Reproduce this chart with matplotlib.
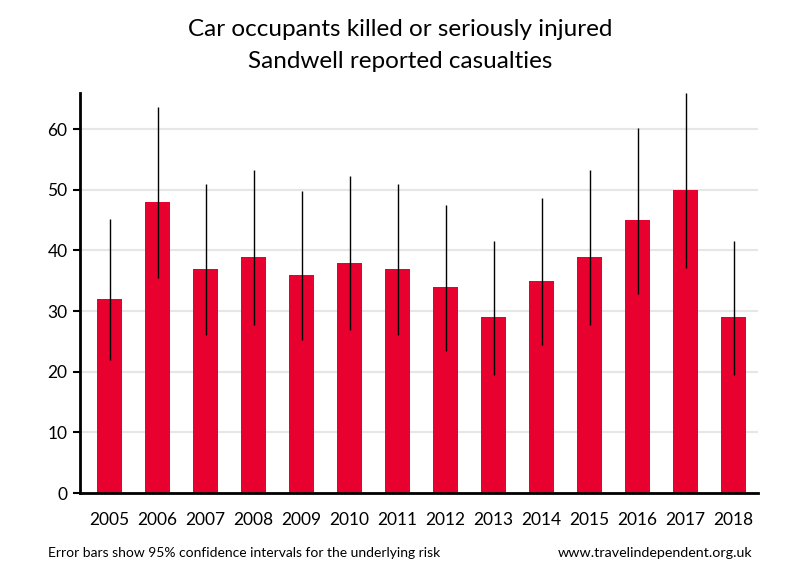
import matplotlib
matplotlib.use('Agg')
import matplotlib.pyplot as plt
import numpy as np

plt.rcParams['font.family'] = ['Lato', 'DejaVu Sans']

YEARS = ['2005', '2006', '2007', '2008', '2009', '2010', '2011',
         '2012', '2013', '2014', '2015', '2016', '2017', '2018']
CASUALTIES = [32, 48, 37, 39, 36, 38, 37, 34, 29, 35, 39, 45, 50, 29]
CI_LOW = [22.0, 35.4, 26.0, 27.7, 25.2, 26.9, 26.0, 23.5, 19.4, 24.4, 27.7, 32.8, 37.1, 19.4]
CI_HIGH = [45.2, 63.6, 51.0, 53.3, 49.8, 52.2, 51.0, 47.5, 41.6, 48.7, 53.3, 60.2, 65.9, 41.6]

BAR_COLOR = '#E8002F'

fig = plt.figure(figsize=(8, 5.8), dpi=100)
ax = fig.add_axes([0.1, 0.15, 0.8475, 0.69])

x = np.arange(len(YEARS))
ax.bar(x, CASUALTIES, width=0.52, color=BAR_COLOR, zorder=2)
ax.vlines(x, CI_LOW, CI_HIGH, color='black', linewidth=1, zorder=3)

ax.set_xlim(-0.615, len(YEARS) - 1 + 0.51)
ax.set_ylim(0, 66)
ax.set_yticks(range(0, 70, 10))
ax.set_xticks(x)
ax.set_xticklabels(YEARS)

ax.grid(axis='y', color='#e6e6e6', linewidth=1.5, zorder=0)
ax.set_axisbelow(True)
for side in ['top', 'right']:
    ax.spines[side].set_visible(False)
for side in ['left', 'bottom']:
    ax.spines[side].set_linewidth(2)
ax.tick_params(axis='x', length=0, pad=14, labelsize=12.5)
ax.tick_params(axis='y', length=5, width=1.5, labelsize=12.5, pad=4)

fig.text(0.5, 0.95, 'Car occupants killed or seriously injured', ha='center',
         va='center', fontsize=17.5)
fig.text(0.5, 0.894, 'Sandwell reported casualties', ha='center',
         va='center', fontsize=17.5)
fig.text(0.06, 0.046, 'Error bars show 95% confidence intervals for the underlying risk',
         ha='left', va='center', fontsize=10)
fig.text(0.94, 0.046, 'www.travelindependent.org.uk', ha='right',
         va='center', fontsize=10.3)

fig.savefig('out.png', dpi=100)
